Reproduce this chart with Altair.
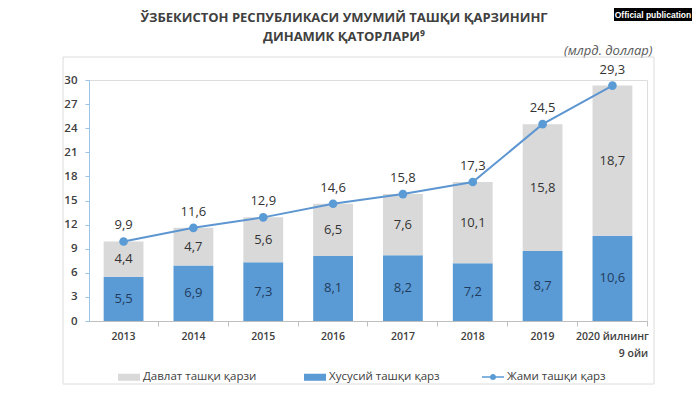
import altair as alt
import pandas as pd

# ---- data ----
years = ["2013", "2014", "2015", "2016", "2017", "2018", "2019", "2020 йилнинг 9 ойи"]
private_debt = [5.5, 6.9, 7.3, 8.1, 8.2, 7.2, 8.7, 10.6]
state_debt = [4.4, 4.7, 5.6, 6.5, 7.6, 10.1, 15.8, 18.7]
total_debt = [9.9, 11.6, 12.9, 14.6, 15.8, 17.3, 24.5, 29.3]
y_ticks = [0, 3, 6, 9, 12, 15, 18, 21, 24, 27, 30]

S_STATE = "Давлат ташқи қарзи"
S_PRIV = "Хусусий ташқи қарз"
S_TOTAL = "Жами ташқи қарз"
TITLE = ["ЎЗБЕКИСТОН РЕСПУБЛИКАСИ УМУМИЙ ТАШҚИ ҚАРЗИНИНГ", "ДИНАМИК ҚАТОРЛАРИ⁹"]
UNITS = "(млрд. доллар)"

GRAY = "#d9d9d9"
BLUE = "#5b9bd5"
LINE = "#5d96d0"
TXT = "#404040"
FONT = "Open Sans"

n = len(years)
wide = pd.DataFrame({"year": years, "private": private_debt, "state": state_debt,
                     "total": total_debt, "line": [S_TOTAL] * n})
long = pd.DataFrame({"year": years * 2,
                     "series": [S_PRIV] * n + [S_STATE] * n,
                     "value": private_debt + state_debt,
                     "ord": [0] * n + [1] * n})
one = pd.DataFrame({"a": [0]})

pad = "\u200b" + "\u2003" * 4
last_lbl = "['2020 йилнинг', '" + pad + "9 ойи']"
X = alt.X("year:N", sort=years, title=None,
          scale=alt.Scale(paddingInner=0.43, paddingOuter=0.21),
          axis=alt.Axis(labelAngle=0, labelFont=FONT, labelFontSize=10.5, labelColor=TXT,
                        labelFontWeight=600,
                        domainColor="#bfbfbf", tickColor="#bfbfbf", tickSize=5,
                        bandPosition=1.375, labelPadding=5, labelLineHeight=17,
                        labelExpr="datum.label == '2020 йилнинг 9 ойи' ? " + last_lbl + " : datum.label"))

yscale = alt.Scale(domain=[0, 30], nice=False)
yaxis = alt.Axis(values=y_ticks, grid=False, labelFont=FONT, labelFontSize=11.5, labelColor=TXT,
                 labelFontWeight=600,
                 domainColor="#9dc3e6", tickColor="#9dc3e6", tickSize=4, labelPadding=8,
                 titleAngle=0, titleX=563, titleY=-30, titleAlign="right", titleBaseline="middle",
                 titleFont=FONT, titleFontSize=13, titleFontStyle="italic", titleFontWeight="normal",
                 titleColor="#595959")


def Y(field, **kw):
    return alt.Y(field, scale=yscale, axis=yaxis, title=UNITS, **kw)


frame = alt.Chart(one).mark_rect(fill="transparent", stroke="#dcdcdc", strokeWidth=1).encode(
    x=alt.value(-26), x2=alt.value(565), y=alt.value(-23), y2=alt.value(304))

badge = alt.Chart(one).mark_rect(fill="#000000").encode(
    x=alt.value(525), x2=alt.value(603), y=alt.value(-72), y2=alt.value(-59))
badge_txt = alt.Chart(one).mark_text(text="Official publication", color="white",
                                     font="Liberation Sans", fontWeight="bold", fontSize=8.5,
                                     baseline="middle", align="center").encode(
    x=alt.value(564), y=alt.value(-65.5))

bars = alt.Chart(long).mark_bar().encode(
    x=X,
    y=Y("value:Q", stack="zero"),
    color=alt.Color("series:N", scale=alt.Scale(domain=[S_STATE, S_PRIV], range=[GRAY, BLUE]),
                    legend=alt.Legend(title=None, orient="none", legendX=29, legendY=286,
                                      direction="horizontal", columns=2, gridAlign="all",
                                      symbolType="M-1,-0.32H1V0.32H-1Z", symbolSize=484,
                                      symbolStrokeWidth=0, columnPadding=47, labelOffset=3,
                                      labelFont=FONT, labelFontSize=11.5, labelColor=TXT,
                                      labelLimit=200)),
    order=alt.Order("ord:Q"),
)

priv_txt = alt.Chart(wide).transform_calculate(
    ym="datum.private / 2",
    lbl="replace(format(datum.private, '.1f'), '.', ',')",
).mark_text(font=FONT, fontSize=13, color="#1f3b5e", baseline="middle").encode(
    x=X, y=Y("ym:Q"), text="lbl:N")

state_txt = alt.Chart(wide).transform_calculate(
    ym="datum.private + datum.state / 2",
    lbl="replace(format(datum.state, '.1f'), '.', ',')",
).mark_text(font=FONT, fontSize=13, color="#333333", baseline="middle").encode(
    x=X, y=Y("ym:Q"), text="lbl:N")

line = alt.Chart(wide).mark_line(color=LINE, strokeWidth=2).encode(x=X, y=Y("total:Q"))

points = alt.Chart(wide).mark_point(filled=True, color=BLUE, size=75, opacity=1).encode(
    x=X, y=Y("total:Q"),
    opacity=alt.Opacity("line:N", scale=alt.Scale(domain=[S_TOTAL], range=[1]),
                        legend=alt.Legend(title=None, orient="none", legendX=393, legendY=286,
                                          symbolType="M-1,-0.07H1V0.07H-1Z M-0.28,0A0.28,0.28 0 1,1 0.28,0A0.28,0.28 0 1,1 -0.28,0Z",
                                          symbolSize=484, symbolFillColor=BLUE,
                                          symbolStrokeWidth=0, labelOffset=3,
                                          labelFont=FONT, labelFontSize=11.5, labelColor=TXT,
                                          labelLimit=200)),
)

total_txt = alt.Chart(wide).transform_calculate(
    lbl="replace(format(datum.total, '.1f'), '.', ',')",
).mark_text(font=FONT, fontSize=13, color="#333333", baseline="middle", dy=-16).encode(
    x=X, y=Y("total:Q"), text="lbl:N")

chart = alt.layer(frame, bars, priv_txt, state_txt, line, points, total_txt, badge, badge_txt).properties(
    width=558, height=241,
    padding={"left": 81, "top": 72, "right": 45, "bottom": 64},
    autosize=alt.AutoSizeParams(type="none"),
    title=alt.TitleParams(TITLE, anchor="middle", frame="group", orient="top", baseline="bottom",
                          offset=-48.5, dx=-24, font=FONT, fontSize=13, fontWeight="bold",
                          color=TXT, lineHeight=19),
).configure_view(stroke=None).configure(background="white")

chart.save("out.html", embed_options={"renderer": "svg", "actions": False})
